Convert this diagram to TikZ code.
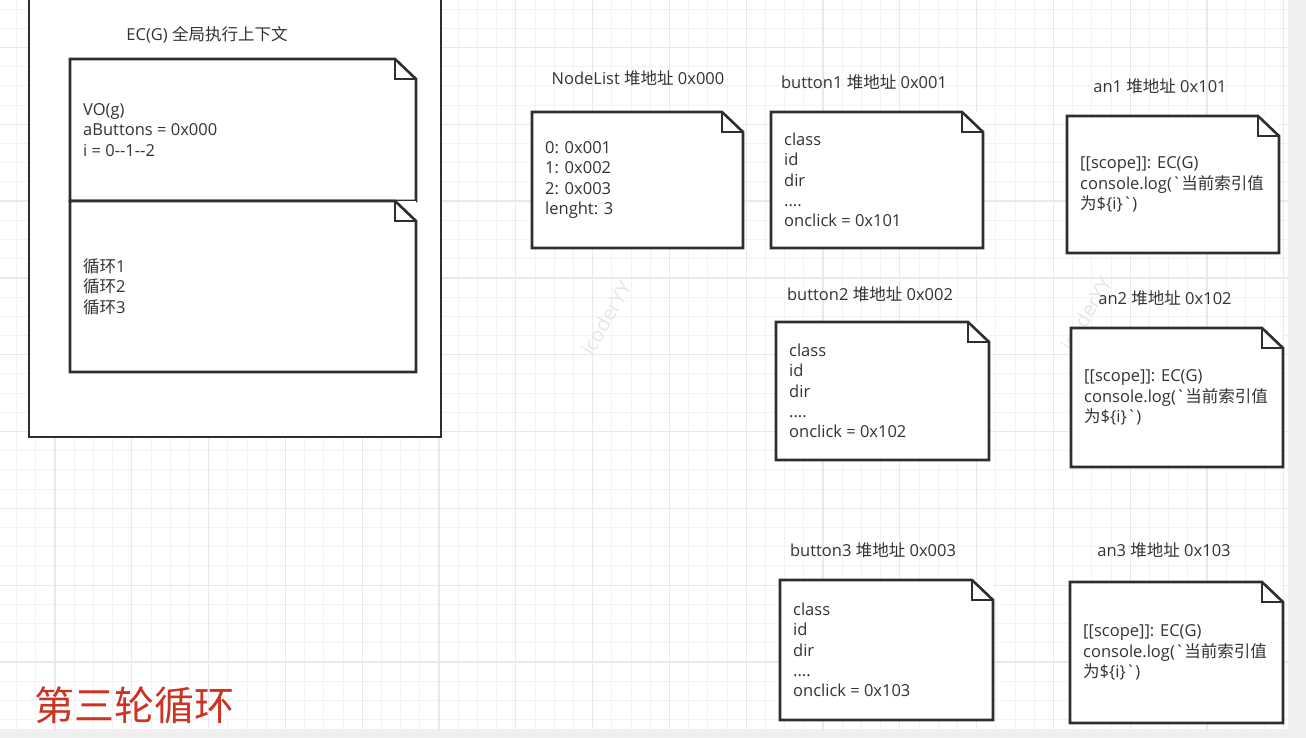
\documentclass[tikz,border=0pt]{standalone}
\usepackage{fontspec}
\setmainfont{Open Sans}[Ligatures=TeXOff]
\newfontfamily\cjk{Noto Sans CJK SC}
\newcommand\zh[1]{{\cjk #1}}
\definecolor{txt}{HTML}{333333}
\definecolor{edge}{HTML}{2E2E2E}
\definecolor{gminor}{HTML}{F3F3F3}
\definecolor{gmajor}{HTML}{E9E9E9}
\definecolor{strip}{HTML}{EFEFEF}
\definecolor{redlbl}{HTML}{CC3322}
\definecolor{wmark}{HTML}{E6E6E6}
\tikzset{
  notebox/.style n args={2}{rectangle, inner sep=0pt, outer sep=0pt, fill=white,
     minimum width=#1pt, minimum height=#2pt, anchor=north west},
  noteline/.style={draw=edge, line width=2.6pt, line join=miter},
  notetext/.style={inner sep=0pt, anchor=west, align=left, text=txt,
     font=\fontsize{16.5}{20.4}\selectfont},
  titletext/.style={inner sep=0pt, text=txt, font=\fontsize{16.5}{20}\selectfont},
  gridminor/.style={draw=gminor, line width=1pt},
  gridmajor/.style={draw=gmajor, line width=1.2pt},
  wm/.style={text=wmark, font=\fontsize{20}{20}\selectfont, inner sep=0pt},
}
\newcommand\drawnote[1]{%
  \draw[noteline] (#1.north west) -- ([xshift=-21pt]#1.north east)
     -- ([yshift=-20pt]#1.north east) -- (#1.south east) -- (#1.south west) -- cycle;
  \draw[noteline] ([xshift=-21pt]#1.north east) -- ([xshift=-21pt,yshift=-20pt]#1.north east)
     -- ([yshift=-20pt]#1.north east);}
\begin{document}
\begin{tikzpicture}[x=1pt,y=-1pt]
\useasboundingbox (0,0) rectangle (1306,738);
\fill[white] (0,0) rectangle (1306,738);
% grid
\foreach \i in {0,...,66} {\draw[gridminor] ({16.6+\i*19.2},0) -- ({16.6+\i*19.2},738);}
\foreach \i in {0,...,37} {\draw[gridminor] (0,{9.1+\i*19.2}) -- (1306,{9.1+\i*19.2});}
\foreach \i in {0,...,16} {\draw[gridmajor] ({55+\i*76.8},0) -- ({55+\i*76.8},738);}
\foreach \i in {0,...,8} {\draw[gridmajor] (0,{47.5+\i*76.8}) -- (1306,{47.5+\i*76.8});}
\fill[strip] (1288,0) rectangle (1306,738);
\fill[strip] (0,729) rectangle (1306,738);
% watermarks
\node[wm, rotate=60] (wm1) at (606,318) {icoderYY};
\node[wm, rotate=60] (wm2) at (1086,314) {icoderYY};
% global execution context
\node[rectangle, draw=edge, line width=2pt, fill=white, inner sep=0pt,
      minimum width=412pt, minimum height=448pt, anchor=south west] (ecg) at (28,438) {};
\node[titletext] (ecg-h) at (207,35) {EC(G) \zh{全局执行上下文}};
\node[notebox={346}{142}] (vo) at (70,59) {};
\drawnote{vo}
\node[notetext] (vo-t) at ([xshift=13pt]vo.west) {VO(g)\\aButtons = 0x000\\i = 0--1--2};
\node[notebox={346}{171}] (loop) at (70,201) {};
\drawnote{loop}
\node[notetext] (loop-t) at ([xshift=13pt]loop.west) {\zh{循环}1\\\zh{循环}2\\\zh{循环}3};
% NodeList
\node[titletext] (nl-h) at (638,78) {NodeList \zh{堆地址} 0x000};
\node[notebox={211}{136}] (nl) at (532,112) {};
\drawnote{nl}
\node[notetext] (nl-t) at ([xshift=13pt]nl.west) {0: 0x001\\1: 0x002\\2: 0x003\\lenght: 3};
% buttons
\node[titletext] (b1-h) at (864,82) {button1 \zh{堆地址} 0x001};
\node[notebox={212}{136}] (b1) at (771,112) {};
\drawnote{b1}
\node[notetext] (b1-t) at ([xshift=13pt]b1.west) {class\\id\\dir\\....\\onclick = 0x101};
\node[titletext] (b2-h) at (870,294) {button2 \zh{堆地址} 0x002};
\node[notebox={213}{138}] (b2) at (776,322) {};
\drawnote{b2}
\node[notetext] (b2-t) at ([xshift=13pt]b2.west) {class\\id\\dir\\....\\onclick = 0x102};
\node[titletext] (b3-h) at (873,550) {button3 \zh{堆地址} 0x003};
\node[notebox={213}{140}] (b3) at (780,580) {};
\drawnote{b3}
\node[notetext] (b3-t) at ([xshift=13pt]b3.west) {class\\id\\dir\\....\\onclick = 0x103};
% anonymous functions
\node[titletext] (a1-h) at (1160,86) {an1 \zh{堆地址} 0x101};
\node[notebox={212}{137}] (a1) at (1067,116) {};
\drawnote{a1}
\node[notetext] (a1-t) at ([xshift=13pt]a1.west) {[[scope]]: EC(G)\\console.log(`\zh{当前索引值}\\\zh{为}\$\{i\}`)};
\node[titletext] (a2-h) at (1165,298) {an2 \zh{堆地址} 0x102};
\node[notebox={212}{139}] (a2) at (1071,328) {};
\drawnote{a2}
\node[notetext] (a2-t) at ([xshift=13pt]a2.west) {[[scope]]: EC(G)\\console.log(`\zh{当前索引值}\\\zh{为}\$\{i\}`)};
\node[titletext] (a3-h) at (1164,550) {an3 \zh{堆地址} 0x103};
\node[notebox={213}{141}] (a3) at (1070,582) {};
\drawnote{a3}
\node[notetext] (a3-t) at ([xshift=13pt]a3.west) {[[scope]]: EC(G)\\console.log(`\zh{当前索引值}\\\zh{为}\$\{i\}`)};
% label
\node[inner sep=0pt, anchor=west, text=redlbl, font=\cjk\fontsize{40}{40}\selectfont] (round) at (34,705) {第三轮循环};
\end{tikzpicture}
\end{document}
